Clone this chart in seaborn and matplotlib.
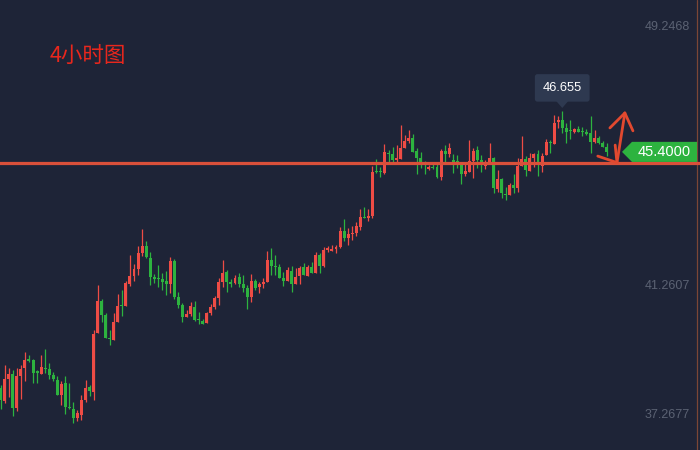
import numpy as np
import pandas as pd
import seaborn as sns
import matplotlib
matplotlib.use("Agg")
import matplotlib.pyplot as plt
from matplotlib.patches import Polygon
from matplotlib.transforms import blended_transform_factory

# ---------------- data (4h candles) ----------------
opens = [38.12, 37.71, 38.38, 38.54, 37.51, 38.48, 38.73, 39.01, 38.98, 38.63,
         38.55, 38.73, 38.70, 38.52, 38.36, 37.91, 38.27, 37.54, 37.47, 37.19,
         37.29, 37.74, 38.15, 38.00, 39.82, 40.80, 40.37, 39.66, 39.59, 40.16,
         40.67, 40.64, 41.32, 41.58, 41.79, 42.29, 42.50, 42.12, 41.55, 41.52,
         41.48, 41.42, 41.32, 42.03, 40.91, 40.67, 40.30, 40.40, 40.60, 40.23,
         40.18, 40.13, 40.43, 40.61, 40.89, 41.39, 41.69, 41.39, 41.36, 41.54,
         41.32, 41.21, 40.93, 41.41, 41.24, 41.31, 41.39, 42.06, 41.88, 41.85,
         41.52, 41.42, 41.72, 41.33, 41.58, 41.84, 41.57, 41.86, 41.67, 42.22,
         41.88, 42.37, 42.35, 42.41, 42.46, 42.96, 42.75, 42.87, 42.91, 43.08,
         43.40, 43.37, 43.42, 44.81, 44.81, 44.74, 45.37, 45.34, 45.15, 45.18,
         45.53, 45.74, 45.83, 45.44, 45.22, 45.07, 44.88, 44.94, 44.94, 44.63,
         45.43, 45.33, 45.15, 45.12, 45.03, 44.72, 44.79, 45.12, 45.46, 45.15,
         44.96, 45.02, 45.22, 44.26, 44.55, 44.10, 44.07, 44.38, 44.28, 44.96,
         45.17, 44.81, 45.20, 45.33, 44.96, 45.30, 45.71, 45.64, 46.31, 46.38,
         46.13, 46.08, 46.02, 46.11, 46.04, 46.00, 45.99, 45.71, 45.84, 45.68,
         45.56]
highs = [38.21, 38.82, 38.73, 38.67, 38.73, 38.82, 39.22, 39.13, 39.01, 38.67,
         39.13, 39.32, 38.88, 38.61, 38.48, 38.33, 38.48, 38.27, 37.68, 37.43,
         37.89, 38.36, 38.21, 39.90, 41.29, 40.86, 40.43, 39.90, 40.44, 41.01,
         41.14, 41.42, 42.22, 41.94, 42.50, 43.02, 42.65, 42.31, 41.63, 41.91,
         41.65, 41.72, 42.16, 42.09, 41.08, 40.73, 40.52, 40.77, 40.80, 40.46,
         40.24, 40.46, 40.70, 40.95, 41.50, 42.06, 41.76, 41.48, 41.59, 41.66,
         41.60, 41.29, 41.63, 41.48, 41.38, 41.52, 42.34, 42.42, 42.22, 41.94,
         41.68, 41.84, 41.87, 41.82, 41.88, 41.97, 41.91, 42.00, 42.32, 42.29,
         42.46, 42.50, 42.53, 42.53, 43.09, 43.34, 43.06, 43.11, 43.24, 43.63,
         43.70, 43.64, 44.96, 45.18, 44.93, 45.64, 45.46, 45.55, 45.61, 46.23,
         45.92, 46.08, 45.95, 45.51, 45.39, 45.13, 45.00, 45.10, 45.10, 45.49,
         45.61, 45.68, 45.33, 45.30, 45.09, 45.03, 45.77, 45.51, 45.58, 45.30,
         45.15, 45.68, 45.25, 44.84, 44.60, 44.31, 44.45, 44.72, 45.20, 45.89,
         45.27, 45.37, 45.37, 45.46, 45.36, 45.80, 45.77, 46.54, 46.52, 46.655,
         46.28, 46.38, 46.13, 46.21, 46.16, 46.11, 46.50, 46.08, 45.89, 45.74,
         45.66]
lows = [37.46, 37.66, 37.84, 37.25, 37.41, 37.77, 38.34, 38.91, 38.28, 38.28,
        38.55, 38.58, 38.40, 38.34, 37.90, 37.59, 37.31, 37.47, 37.04, 37.10,
        37.13, 37.68, 37.87, 37.74, 39.82, 40.16, 39.65, 39.44, 39.59, 40.16,
        40.33, 40.64, 41.27, 41.42, 41.60, 42.20, 42.14, 41.29, 41.34, 41.24,
        41.14, 40.98, 41.04, 40.86, 40.59, 40.16, 40.30, 40.33, 40.18, 40.09,
        40.09, 40.13, 40.37, 40.55, 40.67, 41.24, 41.08, 41.24, 41.31, 41.22,
        41.07, 40.55, 40.78, 41.14, 41.05, 41.21, 41.39, 41.60, 41.60, 41.52,
        41.27, 41.42, 41.09, 41.33, 41.32, 41.60, 41.57, 41.67, 41.67, 41.67,
        41.85, 42.32, 42.35, 42.29, 42.42, 42.66, 42.53, 42.68, 42.80, 42.99,
        43.37, 43.28, 43.36, 44.76, 44.63, 44.72, 45.05, 45.05, 45.05, 45.18,
        45.53, 45.68, 45.41, 44.72, 44.89, 44.72, 44.84, 44.86, 44.60, 44.53,
        45.10, 45.23, 44.76, 44.89, 44.41, 44.66, 44.79, 44.59, 44.89, 44.79,
        44.86, 45.02, 44.12, 44.17, 43.99, 43.91, 44.07, 44.12, 44.17, 44.96,
        44.66, 44.81, 44.94, 44.66, 44.79, 45.30, 45.38, 45.64, 46.15, 45.97,
        45.66, 45.79, 45.97, 46.02, 45.90, 45.92, 45.36, 45.66, 45.63, 45.56,
        45.28]
closes = [37.74, 38.39, 38.54, 37.51, 38.48, 38.70, 38.98, 38.96, 38.58, 38.59,
          38.76, 38.70, 38.52, 38.39, 37.90, 38.24, 37.54, 37.50, 37.19, 37.35,
          37.75, 38.11, 38.02, 39.78, 40.80, 40.37, 39.65, 39.63, 40.16, 40.64,
          40.64, 41.36, 41.57, 41.79, 42.29, 42.50, 42.16, 41.55, 41.48, 41.48,
          41.38, 41.32, 42.03, 40.91, 40.67, 40.29, 40.40, 40.64, 40.21, 40.20,
          40.09, 40.43, 40.61, 40.89, 41.39, 41.67, 41.39, 41.32, 41.52, 41.32,
          41.21, 40.93, 41.42, 41.21, 41.31, 41.38, 42.06, 41.88, 41.85, 41.52,
          41.42, 41.75, 41.33, 41.54, 41.82, 41.60, 41.86, 41.67, 42.22, 41.88,
          42.37, 42.42, 42.41, 42.47, 42.96, 42.75, 42.87, 42.91, 43.11, 43.39,
          43.37, 43.42, 44.79, 44.78, 44.78, 45.40, 45.33, 45.15, 45.22, 45.52,
          45.74, 45.83, 45.41, 45.22, 45.05, 45.03, 44.92, 44.91, 44.63, 45.43,
          45.33, 45.53, 45.10, 45.03, 44.72, 44.82, 45.13, 45.44, 45.15, 45.03,
          45.02, 45.22, 44.30, 44.55, 44.14, 44.07, 44.38, 44.28, 44.96, 45.17,
          44.84, 45.20, 45.33, 45.05, 45.28, 45.71, 45.66, 46.28, 46.38, 46.13,
          46.02, 46.04, 46.10, 46.02, 46.02, 45.96, 45.71, 45.84, 45.68, 45.56,
          45.41]

y_ticks = [49.2468, 41.2607, 37.2677]
y_tick_labels = ["49.2468", "41.2607", "37.2677"]
support_level = 45.06
last_price = 45.40
last_price_label = "45.4000"
peak_label = "46.655"
title = "4小时图"

# ---------------- style ----------------
BG = "#1e2437"
UP = "#ee4c45"
DOWN = "#2db33f"
LINE = "#d9503a"

sns.set_theme(style="dark", rc={"axes.facecolor": BG, "figure.facecolor": BG})
plt.rcParams["font.family"] = ["Liberation Sans", "DejaVu Sans"]

df = pd.DataFrame({"open": opens, "high": highs, "low": lows, "close": closes})
df["idx"] = np.arange(len(df))
df["up"] = df["close"] >= df["open"]
df["color"] = np.where(df["up"], UP, DOWN)
df["bottom"] = df[["open", "close"]].min(axis=1)
df["height"] = (df["close"] - df["open"]).abs().clip(lower=0.035)

fig = plt.figure(figsize=(7, 4.5), dpi=100)
ax = fig.add_axes([0, 0, 1, 1])
ax.set_facecolor(BG)

# wicks and bodies
ax.vlines(df["idx"], df["low"], df["high"], colors=df["color"], linewidth=0.9, zorder=2)
ax.bar(df["idx"], df["height"], bottom=df["bottom"], width=0.74,
       color=df["color"], linewidth=0, zorder=3)

ax.set_xlim(-0.17, 173.1)
ax.set_ylim(36.199, 50.088)
ax.set_xticks([])
ax.set_yticks([])
for s in ax.spines.values():
    s.set_visible(False)
ax.grid(False)

# support line and right border line
sns.lineplot(x=[-1, 180], y=[support_level, support_level], ax=ax,
             color=LINE, linewidth=2.3, zorder=4)
ax.axvline(172.35, color="#7c4636", linewidth=0.9, zorder=1)

# price labels on the right
tr = blended_transform_factory(ax.transAxes, ax.transData)
for v, lab in zip(y_ticks, y_tick_labels):
    ax.text(0.986, v, lab, transform=tr, ha="right", va="center",
            color="#5b6273", fontsize=9)

# last price tag
h = 0.31
tag = Polygon([(622 / 700, last_price), (632 / 700, last_price + h), (697 / 700, last_price + h),
               (697 / 700, last_price - h), (632 / 700, last_price - h)],
              closed=True, transform=tr, facecolor=DOWN, edgecolor="none", zorder=6)
ax.add_patch(tag)
ax.text(0.949, last_price, last_price_label, transform=tr, ha="center", va="center",
        color="white", fontsize=10.5, zorder=7)

# peak tooltip
pk = int(np.argmax(highs))
pk_high = highs[pk]
box_col = "#2e3950"
ax.text(pk, pk_high + 0.72, peak_label, ha="center", va="center", color="white",
        fontsize=9.3, zorder=7,
        bbox=dict(boxstyle="round,pad=0.6,rounding_size=0.2", fc=box_col, ec="none"))
ax.add_patch(Polygon([(pk - 1.8, pk_high + 0.36), (pk + 1.8, pk_high + 0.36), (pk, pk_high + 0.1)],
                     closed=True, facecolor=box_col, edgecolor="none", zorder=6))

# hand-drawn arrows
arrow_kw = dict(color="#e2492f", linewidth=2.0, solid_capstyle="round", zorder=5)
tip_dn = (152.55, 45.07)
tip_up = (154.5, 46.60)
ax.plot([147.8, tip_dn[0]], [45.27, tip_dn[1]], **arrow_kw)
ax.plot([152.1, tip_dn[0]], [45.61, tip_dn[1]], **arrow_kw)
ax.plot([tip_dn[0], tip_up[0]], [tip_dn[1], tip_up[1]], **arrow_kw)
ax.plot([150.8, tip_up[0]], [46.14, tip_up[1]], **arrow_kw)
ax.plot([156.5, tip_up[0]], [46.05, tip_up[1]], **arrow_kw)

# title
fig.text(50 / 700, 1 - 57 / 450, title, color="#e8271d", fontsize=15.5,
         family=["Noto Sans CJK SC", "DejaVu Sans"], ha="left", va="center")

fig.savefig("out.png", dpi=100, facecolor=BG)
